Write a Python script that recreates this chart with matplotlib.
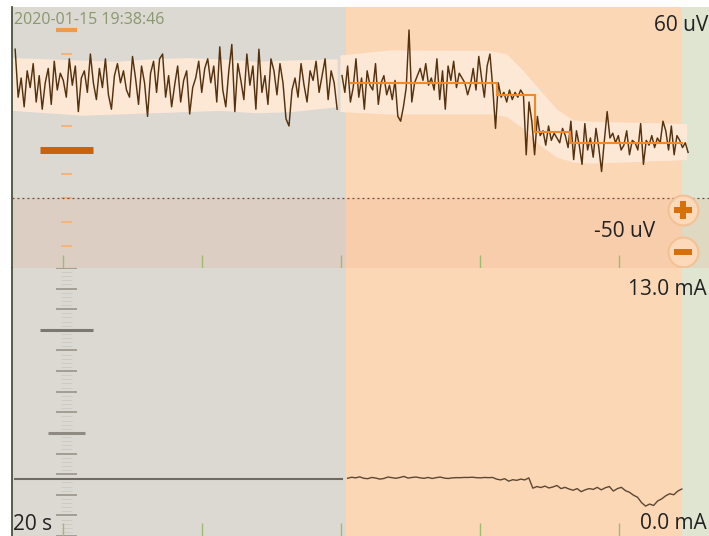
import matplotlib
matplotlib.use("Agg")
import matplotlib.pyplot as plt
import numpy as np

W, H = 709, 536

# x axis: a 20 s window, split into recorded (gray), live (orange) and pending (green)
T_MAX = 20.0
T_GRAY_END = 9.58
T_ORANGE_END = 19.22
time_ticks = [1.46, 5.45, 9.44, 13.43, 17.42]

UV_MIN, UV_MAX = -49.2, 59.6
UV_LIMIT = -20
MA_MIN, MA_MAX = 0.0, 13.0

uv_scale = [50, 40, 30, 20, 10, 0, -10, -20, -30, -40, -50]
ma_scale = list(range(0, 14))
ma_minor = [m + f for m in range(0, 13) for f in (0.2, 0.4, 0.6, 0.8)]

# top trace (uV), gray part
sig_gray = [42, 22, 30, 18, 33, 26, 36, 20, 31, 17, 28, 34, 19, 37, 25, 32, 29, 22, 38, 27,
            35, 16, 30, 33, 24, 40, 28, 21, 34, 26, 38, 23, 17, 31, 36, 28, 33, 25, 22, 39,
            30, 19, 35, 28, 14, 32, 37, 24, 38, 40, 22, 31, 18, 27, 35, 20, 29, 33, 15, 26,
            30, 37, 24, 34, 38, 28, 35, 20, 43, 25, 18, 33, 44, 16, 36, 29, 21, 40, 27, 35,
            17, 42, 24, 31, 19, 38, 33, 23, 36, 28, 13, 10, 25, 30, 22, 36, 27, 20, 33, 29,
            37, 24, 31, 38, 21, 33, 28, 17]
# top trace (uV), orange part
sig_orange = [31, 24, 35, 20, 26, 38, 22, 30, 17, 33, 27, 25, 36, 19, 28, 31, 23, 27, 21, 29,
              14, 12, 18, 26, 50, 20, 28, 31, 34, 29, 36, 27, 30, 25, 38, 21, 33, 17, 35, 29,
              37, 26, 32, 30, 28, 23, 27, 34, 25, 39, 30, 22, 35, 40, 26,
              9, 28, 22, 24, 20, 25, 21, 24, 22, 25, 23, -2, 20, 12,
              -2, 14, 6, 8, 2, 10, 4, 7, 5, 3, 9, 6,
              1, 12, -4, 8, 2, -6, 11, 0, 5, -3, 9, 1, -9, 4, 16, 5, 7, 3, 6, 0,
              2, 8, -2, 4, 3, 0, 11, -6, 4, 2, 6, 1, 5, 3, 12, 8, 0, 10, -2, 6, 4, 1, 3, -1]

# step (segment mean) line
step_t = [9.70, 13.92, 15.01, 16.01, 19.25]
step_uv = [28, 23, 7.5, 3]

# envelope band
band_gray_t = [0.0, 1.0, 2.0, 3.0, 4.0, 5.0, 6.0, 7.0, 8.0, 9.33]
band_gray_hi = [38.5, 38, 37.5, 37, 38, 38.5, 38, 37, 37.5, 38]
band_gray_lo = [16.5, 15.5, 14.5, 15, 15.5, 16, 16.5, 15.5, 16, 18]
band_or_t = [9.41, 10.85, 13.72, 14.19, 14.67, 15.15, 15.63, 16.10, 16.59, 19.36]
band_or_hi = [39.6, 41.7, 41.5, 40, 33, 25, 17, 12.5, 12, 11]
band_or_lo = [16, 15, 15, 14, 9, 2, -3, -5, -5.5, -4]

# bottom trace (mA)
cur_gray = [2.77, 2.77]
cur_gray_t = [0.09, 9.47]
cur_orange = [2.80, 2.85, 2.82, 2.87, 2.80, 2.78, 2.84, 2.81, 2.76, 2.79, 2.86, 2.83, 2.80,
              2.84, 2.89, 2.81, 2.84, 2.86, 2.82, 2.80, 2.84, 2.79, 2.83, 2.86, 2.81, 2.79,
              2.82, 2.83, 2.83, 2.84, 2.84, 2.85, 2.83, 2.82, 2.84, 2.83, 2.84,
              2.76, 2.72, 2.78, 2.66, 2.73, 2.70, 2.76, 2.72, 2.82,
              2.32, 2.40, 2.35, 2.42, 2.33, 2.38, 2.45, 2.30, 2.36, 2.28, 2.22, 2.30, 2.15,
              2.24, 2.30, 2.26, 2.36, 2.24, 2.34, 2.40, 2.18, 2.30, 2.36, 2.20, 2.12, 1.98, 1.88,
              1.62, 1.45, 1.55, 1.48, 1.70, 1.80, 1.95, 2.05, 2.00, 2.18, 2.28]

C_GRAY = "#dcd8d2"
C_ORANGE = "#fbd7b6"
C_GREEN = "#dfe5d1"
C_BAND = "#fde8d6"
SCALE_X = 1.564


def backgrounds(ax):
    ax.axvspan(0, T_GRAY_END, color=C_GRAY, lw=0, zorder=0)
    ax.axvspan(T_GRAY_END, T_ORANGE_END, color=C_ORANGE, lw=0, zorder=0)
    ax.axvspan(T_ORANGE_END, T_MAX, color=C_GREEN, lw=0, zorder=0)
    ax.set_xlim(0, T_MAX)
    ax.set_xticks(time_ticks)
    ax.set_xticklabels([])
    ax.set_yticks([])
    ax.tick_params(axis="x", direction="in", length=9.4, width=1.0, color="#9dbb72")
    for s in ["top", "right", "bottom"]:
        ax.spines[s].set_visible(False)
    ax.spines["left"].set_color("#46553a")
    ax.spines["left"].set_linewidth(1.3)


def main():
    plt.rcParams["font.family"] = ["Open Sans", "DejaVu Sans"]
    fig = plt.figure(figsize=(W / 100, H / 100), dpi=100)
    left, width = 12 / W, (W - 12) / W
    ax1 = fig.add_axes([left, (H - 268) / H, width, 261 / H])
    ax2 = fig.add_axes([left, 0, width, 268 / H])

    # ---- top panel (uV)
    backgrounds(ax1)
    ax1.set_ylim(UV_MIN, UV_MAX)
    ax1.axhspan(UV_MIN, UV_LIMIT, color="#e89a70", alpha=0.15, lw=0, zorder=0.5)
    ax1.axhline(UV_LIMIT, color="#6b4a3a", lw=0.9, ls=(0, (1.5, 2.5)), zorder=4)

    small = [v for v in uv_scale if v not in (0, 50, -50)]
    ax1.hlines(small, SCALE_X - 0.17, SCALE_X + 0.17, color="#f5b47a", lw=1.4, zorder=1)
    ax1.hlines([50, -50], SCALE_X - 0.30, SCALE_X + 0.30, color="#f09a48", lw=3, zorder=1)
    ax1.hlines([0], SCALE_X - 0.76, SCALE_X + 0.76, color="#c8620c", lw=5, zorder=1)

    ax1.fill_between(band_gray_t, band_gray_lo, band_gray_hi, color=C_BAND, lw=0, zorder=2)
    ax1.fill_between(band_or_t, band_or_lo, band_or_hi, color=C_BAND, lw=0, zorder=2)

    tg = np.linspace(0.09, 9.33, len(sig_gray))
    to = np.linspace(9.47, 19.40, len(sig_orange))
    ax1.plot(tg, sig_gray, color="#55320f", lw=1.05, zorder=3)
    ax1.plot(to, sig_orange, color="#55320f", lw=1.05, zorder=3)
    ax1.stairs(step_uv, step_t, color="#f08a28", lw=1.5, zorder=3.5, baseline=None)

    # zoom buttons
    for yb, glyph in [((268 - 210) / 261, "+"), ((268 - 252) / 261, "_")]:
        ax1.plot([0.9627], [yb], marker="o", ms=21.5, mfc="#fcd9b8", mec="#f3c196",
                 mew=1.5, transform=ax1.transAxes, clip_on=False, zorder=6)
        ax1.plot([0.9627], [yb], marker=glyph, ms=13, mew=4.3, color="#d6700c",
                 transform=ax1.transAxes, clip_on=False, zorder=7)

    # ---- bottom panel (mA)
    backgrounds(ax2)
    ax2.set_ylim(MA_MIN, MA_MAX)
    ax2.hlines(ma_minor, SCALE_X - 0.17, SCALE_X + 0.17, color="#cfcbc4", lw=0.7, zorder=1)
    others = [v for v in ma_scale if v not in (5, 10)]
    ax2.hlines(others, SCALE_X - 0.30, SCALE_X + 0.30, color="#a39d94", lw=1.4, zorder=1)
    ax2.hlines([5], SCALE_X - 0.53, SCALE_X + 0.53, color="#8f8a82", lw=2.2, zorder=1)
    ax2.hlines([10], SCALE_X - 0.76, SCALE_X + 0.76, color="#7c776f", lw=2.2, zorder=1)

    ax2.plot(cur_gray_t, cur_gray, color="#6e6a62", lw=1.5, zorder=3)
    tc = np.linspace(9.63, 19.22, len(cur_orange))
    ax2.plot(tc, cur_orange, color="#5e4633", lw=1.0, zorder=3)

    # ---- labels
    def ftext(x, y, s, **kw):
        fig.text(x / W, 1 - y / H, s, va="baseline", **kw)

    ftext(14, 24.5, "2020-01-15 19:38:46", ha="left", fontsize=11.5, color="#8a9870")
    ftext(708, 31, "60 uV", ha="right", fontsize=15, color="#222222")
    ftext(655, 237, "-50 uV", ha="right", fontsize=15, color="#222222")
    ftext(707, 295, "13.0 mA", ha="right", fontsize=15, color="#222222")
    ftext(707, 529, "0.0 mA", ha="right", fontsize=15, color="#222222")
    ftext(13, 530, "20 s", ha="left", fontsize=15, color="#222222")

    fig.savefig("out.png", dpi=100, facecolor="white")


if __name__ == "__main__":
    main()
